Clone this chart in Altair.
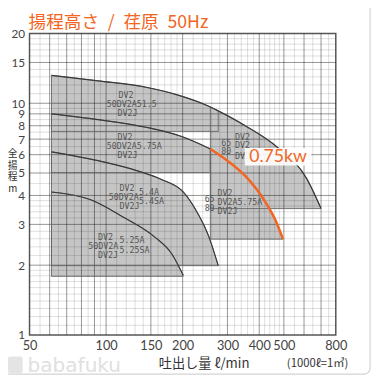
import altair as alt
import pandas as pd

# ---------------- axes / grid values ----------------
x_ticks = [50, 100, 150, 200, 300, 400, 500, 800]
y_ticks = [1, 2, 3, 4, 5, 6, 7, 8, 9, 10, 15, 20]

x_grid_major = [60, 70, 80, 90, 100, 150, 200, 300, 400, 500, 600, 700]
x_grid_minor = [55, 65, 75, 85, 95, 110, 120, 130, 140, 160, 170, 180, 190,
                220, 240, 260, 280, 320, 340, 360, 380, 420, 440, 460, 480,
                550, 650, 750]
y_grid_major = [2, 3, 4, 5, 6, 7, 8, 9, 10, 15]
y_grid_minor = [1.1, 1.2, 1.3, 1.4, 1.5, 1.6, 1.7, 1.8, 1.9, 2.2, 2.4, 2.6, 2.8,
                3.2, 3.4, 3.6, 3.8, 4.5, 5.5, 6.5, 7.5, 8.5, 9.5, 11, 12, 13, 14,
                16, 17, 18, 19]

# ---------------- pump curves (flow l/min, head m) ----------------
q_15 = [61, 93, 145, 189, 257, 276, 351, 470, 614, 700]
h_15 = [13.2, 12.5, 11.7, 10.9, 9.64, 9.27, 8.02, 6.47, 4.74, 3.51]
q_075_50 = [61, 93, 145, 197, 257]
h_075_50 = [9.0, 8.5, 7.86, 7.2, 6.35]
q_075_65 = [257, 307, 351, 390, 427, 462, 496]
h_075_65 = [6.35, 5.54, 4.88, 4.26, 3.68, 3.15, 2.59]
q_04 = [61, 93, 132, 165, 201, 225, 253, 276]
h_04 = [6.17, 5.65, 5.12, 4.69, 4.14, 3.47, 2.67, 1.99]
q_025 = [61, 87, 116, 155, 181, 201]
h_025 = [4.14, 3.83, 3.24, 2.65, 2.24, 1.81]

# ---------------- selection regions ----------------
region_names = ["50DV2A51.5", "65/80DV2A51.5", "50DV2A5.75A",
                "65/80DV2A5.75A", "50DV2A5.4A", "50DV2A5.25A"]
region_curve = ["15", "15", "075_50", "075_65", "04", "025"]
region_q_min = [61, 257, 61, 257, 61, 61]
region_q_max = [276, 700, 257, 496, 276, 201]
region_h_min = [7.56, 3.51, 5.02, 2.59, 1.99, 1.79]

# ---------------- model labels ----------------
label_text = ["DV2", "50DV2A51.5", "DV2J",
              "DV2", "50DV2A5.75A", "DV2J",
              "DV2", "50DV2A", "DV2J", "5.4A", "5.4SA",
              "DV2", "50DV2A", "DV2J", "5.25A", "5.25SA",
              "65", "80", "DV2", "DV2", "DV2",
              "65", "80", "DV2", "DV2A5.75A", "DV2J"]
label_q = [112, 100.7, 111,
           111, 100.7, 111,
           113, 102.5, 113, 134.8, 134.8,
           93, 85.1, 93, 112.9, 112.9,
           283.5, 283.5, 321.4, 321.4, 321.4,
           244, 244, 273.9, 273.9, 273.9]
label_h = [10.8, 9.88, 9.09,
           7.17, 6.54, 5.99,
           4.30, 3.94, 3.61, 4.12, 3.77,
           2.65, 2.42, 2.22, 2.57, 2.33,
           6.70, 6.19, 7.17, 6.57, 5.90,
           3.85, 3.52, 4.10, 3.75, 3.42]

kw_text = "0.75kw"
kw_box_q = [351, 641]
kw_box_h = [5.38, 6.41]
kw_label_q = [474]
kw_label_h = [5.87]

title_text = "揚程高さ\u2002/\u2002荏原\u200250Hz"
ytitle_text = "全\n揚\n程\nm"
xtitle_text = "吐出し量 ℓ/min"
unit_text = "(1000ℓ=1㎥)"
watermark_text = "babafuku"

ORANGE = "#f26522"

# ---------------- data frames ----------------
curves = {"15": (q_15, h_15), "075_50": (q_075_50, h_075_50),
          "075_65": (q_075_65, h_075_65), "04": (q_04, h_04),
          "025": (q_025, h_025)}

rows = []
for name, cname, qmin, qmax, hmin in zip(region_names, region_curve,
                                         region_q_min, region_q_max, region_h_min):
    qs, hs = curves[cname]
    for q, h in zip(qs, hs):
        if qmin <= q <= qmax:
            rows.append({"region": name, "q": q, "h": h, "base": hmin})
regions_df = pd.DataFrame(rows)

dark_rows = []
for cname in ["15", "075_50", "04", "025"]:
    qs, hs = curves[cname]
    for q, h in zip(qs, hs):
        dark_rows.append({"curve": cname, "q": q, "h": h})
dark_df = pd.DataFrame(dark_rows)
orange_df = pd.DataFrame({"q": q_075_65, "h": h_075_65})

labels_df = pd.DataFrame({"text": label_text, "q": label_q, "h": label_h})
kwbox_df = pd.DataFrame({"q": [kw_box_q[0]], "q2": [kw_box_q[1]],
                         "h": [kw_box_h[0]], "h2": [kw_box_h[1]]})
kwlab_df = pd.DataFrame({"q": kw_label_q, "h": kw_label_h, "text": [kw_text]})

xgmaj = pd.DataFrame({"q": x_grid_major})
xgmin = pd.DataFrame({"q": x_grid_minor})
ygmaj = pd.DataFrame({"h": y_grid_major})
ygmin = pd.DataFrame({"h": y_grid_minor})

# ---------------- encodings ----------------
xscale = alt.Scale(type="log", domain=[50, 800], nice=False)
yscale = alt.Scale(type="log", domain=[1, 20], nice=False)
xaxis = alt.Axis(values=x_ticks, format="d", grid=False, ticks=False, tickSize=0,
                 domain=False, labelFontSize=13, labelFont="Lato",
                 labelColor="#444", labelPadding=5, labelFlush=False,
                 labelOverlap=False, title=None)
yaxis = alt.Axis(values=y_ticks, format="d", grid=False, ticks=False, tickSize=0,
                 domain=False, labelFontSize=12, labelFont="Lato",
                 labelColor="#444", labelPadding=5, labelOverlap=False,
                 title=None)
X = alt.X("q:Q", scale=xscale, axis=xaxis)
Y = alt.Y("h:Q", scale=yscale, axis=yaxis)

area_fill = alt.Chart(regions_df).mark_area(
    fill="#c5c5c5", opacity=1, interpolate="monotone"
).encode(x=X, y=Y, y2="base:Q", detail="region:N")

area_outline = alt.Chart(regions_df).mark_area(
    fill="transparent", stroke="#666", strokeWidth=0.9,
    interpolate="monotone"
).encode(x=X, y=Y, y2="base:Q", detail="region:N")

grid_xmin = alt.Chart(xgmin).mark_rule(color="black", opacity=0.16, strokeWidth=0.8).encode(x=X)
grid_ymin = alt.Chart(ygmin).mark_rule(color="black", opacity=0.16, strokeWidth=0.8).encode(y=Y)
grid_xmaj = alt.Chart(xgmaj).mark_rule(color="black", opacity=0.42, strokeWidth=1).encode(x=X)
grid_ymaj = alt.Chart(ygmaj).mark_rule(color="black", opacity=0.42, strokeWidth=1).encode(y=Y)

dark_lines = alt.Chart(dark_df).mark_line(
    color="#3a3a3a", strokeWidth=1.2, interpolate="monotone"
).encode(x=X, y=Y, detail="curve:N")

orange_line = alt.Chart(orange_df).mark_line(
    color=ORANGE, strokeWidth=2.6, interpolate="monotone"
).encode(x=X, y=Y)

labels = alt.Chart(labels_df).mark_text(
    font="DejaVu Sans Mono", fontSize=8.5, color="#555", align="left",
    baseline="middle"
).encode(x=X, y=Y, text="text:N")

kw_box = alt.Chart(kwbox_df).mark_rect(color="white", opacity=0.9).encode(
    x=X, x2="q2:Q", y=Y, y2="h2:Q")
kw_label = alt.Chart(kwlab_df).mark_text(
    font="Lato", fontSize=18, color=ORANGE, align="center", baseline="middle"
).encode(x=X, y=Y, text="text:N")

title = alt.Chart(pd.DataFrame({"t": [title_text]})).mark_text(
    font="Noto Sans CJK JP", fontSize=18, color=ORANGE, align="left",
    baseline="middle"
).encode(x=alt.value(-1), y=alt.value(-11), text="t:N")

ytitle = alt.Chart(pd.DataFrame({"t": [ytitle_text]})).mark_text(
    font="Noto Sans CJK JP", fontSize=10, color="#333", align="center",
    baseline="top", lineBreak="\n", lineHeight=12
).encode(x=alt.value(-17.2), y=alt.value(118), text="t:N")

xtitle = alt.Chart(pd.DataFrame({"t": [xtitle_text]})).mark_text(
    font="Noto Sans CJK JP", fontSize=13.5, color="#333", align="left",
    baseline="middle"
).encode(x=alt.value(132), y=alt.value(338), text="t:N")

unit = alt.Chart(pd.DataFrame({"t": [unit_text]})).mark_text(
    font="Noto Sans CJK JP", fontSize=11.5, color="#333", align="left",
    baseline="middle"
).encode(x=alt.value(263), y=alt.value(338), text="t:N")

logo = alt.Chart(pd.DataFrame({"t": [0]})).mark_rect(
    fill="#e4e4e4", cornerRadius=2
).encode(x=alt.value(-22), x2=alt.value(-7), y=alt.value(330), y2=alt.value(347))

watermark = alt.Chart(pd.DataFrame({"t": [watermark_text]})).mark_text(
    font="DejaVu Sans", fontSize=20.5, color="#e0e0e0", align="left",
    baseline="alphabetic"
).encode(x=alt.value(-2), y=alt.value(346), text="t:N")

frame = alt.Chart(pd.DataFrame({"t": [0]})).mark_rect(
    fill="transparent", stroke="#d4d4d4", strokeWidth=1.2, cornerRadius=6
).encode(x=alt.value(-40), x2=alt.value(348), y=alt.value(-40), y2=alt.value(348))

chart = alt.layer(
    area_fill, grid_xmin, grid_ymin, grid_xmaj, grid_ymaj, area_outline,
    dark_lines, orange_line, labels, kw_box, kw_label,
    title, ytitle, xtitle, unit, logo, watermark, frame
).properties(
    width=313, height=308,
    autosize=alt.AutoSizeParams(type="none"),
    padding={"left": 22, "top": 22, "right": 37, "bottom": 42},
    background="white"
).configure_view(stroke="#555", strokeWidth=1.5)

chart.save("out.html", embed_options={"renderer": "svg", "actions": False})
